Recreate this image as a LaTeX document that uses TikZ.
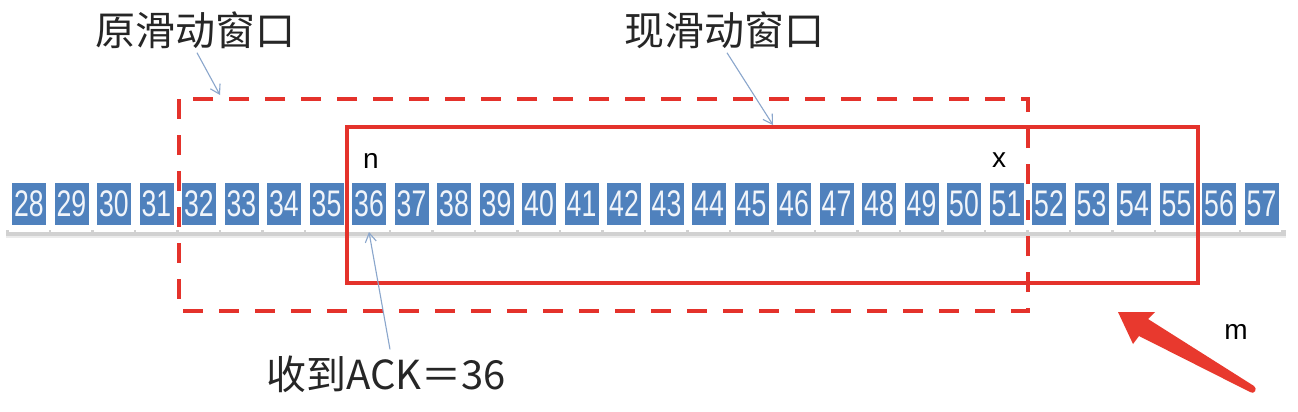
\documentclass[tikz,border=0pt]{standalone}
\usepackage{fontspec}
\setmainfont{Liberation Sans}
\newfontfamily\cjk{Noto Sans CJK SC}
\usetikzlibrary{arrows.meta}
\definecolor{boxblue}{HTML}{4F81BD}
\definecolor{winred}{HTML}{E4322B}
\definecolor{pointer}{HTML}{8AA6CC}
\definecolor{arrowred}{HTML}{E8392E}
\tikzset{
  numbox/.style={fill=boxblue, draw=none, minimum width=34pt, minimum height=42pt, inner sep=0pt,
    text=white!92!boxblue, font=\fontsize{37}{37}\selectfont},
  tile/.style={fill=white, draw=none},
  oldwin/.style={draw=winred, line width=4.5pt, dash pattern=on 20pt off 16pt},
  newwin/.style={draw=winred, line width=4pt},
  pointerarrow/.style={draw=pointer, line width=1.1pt, -{Straight Barb[length=9pt,width=11pt,line width=1.1pt]}},
  cjklabel/.style={font=\cjk\fontsize{40}{40}\selectfont, text=black!85, inner sep=0pt},
  letter/.style={font=\fontsize{28}{28}\selectfont, inner sep=0pt}
}
\begin{document}
\begin{tikzpicture}[x=1pt,y=-1pt]
\useasboundingbox (0,0) rectangle (1298,412);
\fill[white] (0,0) rectangle (1298,412);
% shadow strip
\fill[black!18] (6,230) rectangle (1286,236);
\fill[black!8] (6,236) rectangle (1286,238);
% tiles and boxes
\foreach \i in {0,...,29} {
  \pgfmathsetmacro{\cx}{29+42.5*\i}
  \pgfmathtruncatemacro{\num}{28+\i}
  \fill[tile] (\cx-20.5,180) rectangle (\cx+19.5,232);
  \node[numbox] (b\num) at (\cx,204) {\scalebox{0.72}[1]{\num}};
}
% windows
\coordinate (d1) at (179,99);
\coordinate (d2) at (1028,311);
\draw[oldwin] (d1) rectangle (d2);
\coordinate (s1) at (347,127);
\coordinate (s2) at (1198,283);
\draw[newwin] (s1) rectangle (s2);
% labels
\node[cjklabel] (oldlbl) at (195,30) {原滑动窗口};
\node[cjklabel] (newlbl) at (724,30) {现滑动窗口};
\node[cjklabel] (acklbl) at (386,374) {收到ACK＝36};
\node[letter] (n) at (371,161) {n};
\node[letter] (x) at (999,160) {x};
\node[letter] (m) at (1236,332) {m};
% pointers
\coordinate (oldtip) at (220,95);
\coordinate (newtip) at (773,125);
\coordinate (acktip) at (369,232);
\draw[pointerarrow] (oldlbl.south) ++(2,4) -- (oldtip);
\draw[pointerarrow] (newlbl.south) ++(3,4) -- (newtip);
\draw[pointerarrow] (acklbl.north) ++(4,-6) -- (acktip);
% big red arrow
\fill[arrowred] (1118,312) -- (1155,312) -- (1148,319) -- (1254,386)
  .. controls (1258,389) and (1254,395) .. (1250,392)
  -- (1139,336) -- (1133,344) -- cycle;
\end{tikzpicture}
\end{document}
